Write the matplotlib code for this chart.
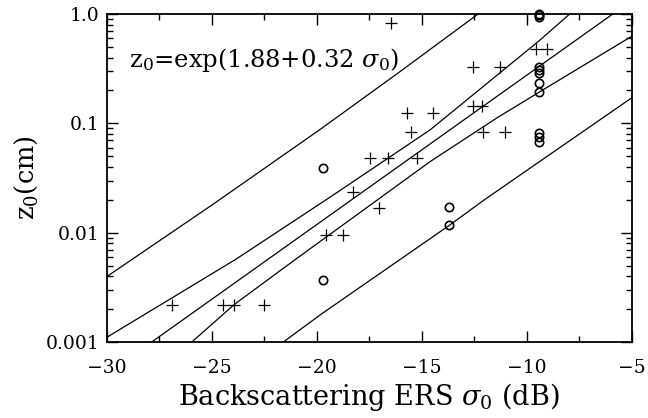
import numpy as np
import matplotlib
matplotlib.use("Agg")
import matplotlib.pyplot as plt
from matplotlib.ticker import FixedLocator, FixedFormatter, MultipleLocator

plt.rcParams['font.family'] = ['DejaVu Serif']
plt.rcParams['mathtext.fontset'] = 'dejavuserif'

# --- data ---
# open circles
circle_sigma = [-9.4, -9.4, -9.4, -9.4, -9.4, -9.4, -9.4, -9.4, -9.4, -9.4, -9.4,
                -13.7, -13.7, -19.7, -19.7]
circle_z0 = [1.0, 0.97, 0.94, 0.33, 0.307, 0.287, 0.232, 0.195, 0.082, 0.0755, 0.068,
             0.0171, 0.0118, 0.0388, 0.0037]

# plus markers
plus_sigma = [-16.47, -9.55, -9.04, -12.57, -11.26, -12.57, -12.13, -15.70, -14.47,
              -15.5, -12.06, -11.02, -17.45, -16.61, -15.23, -18.25, -17.02,
              -19.55, -18.75, -26.9, -24.47, -23.91, -22.49]
plus_z0 = [0.83, 0.48, 0.48, 0.326, 0.326, 0.143, 0.143, 0.124, 0.124,
           0.084, 0.084, 0.084, 0.048, 0.048, 0.048, 0.0237, 0.0167,
           0.0095, 0.0095, 0.0022, 0.0022, 0.0022, 0.0022]

# fitted line and band curves
fit_sigma = [-27.85, -5.9]
fit_z0 = [0.001, 1.0]

upper_conf_sigma = [-30, -23.85, -19.3, -14.6, -9.4, -7.95]
upper_conf_z0 = [0.0011, 0.0057, 0.0215, 0.087, 0.57, 1.0]

lower_conf_sigma = [-25.94, -23.91, -21.02, -14.6, -11.42, -9.4, -5]
lower_conf_z0 = [0.001, 0.00221, 0.00567, 0.0446, 0.112, 0.193, 0.625]

upper_pred_sigma = [-30, -25, -19.83, -16, -12.31]
upper_pred_z0 = [0.00395, 0.0178, 0.088, 0.30, 1.0]

lower_pred_sigma = [-21.58, -19.83, -13.7, -12.06, -5]
lower_pred_z0 = [0.001, 0.00177, 0.0116, 0.0197, 0.171]

# --- plot ---
fig = plt.figure(figsize=(6.48, 4.18), dpi=100)
ax = fig.add_axes([0.1644, 0.1818, 0.8104, 0.7847])

curves = [(fit_sigma, fit_z0), (upper_conf_sigma, upper_conf_z0),
          (lower_conf_sigma, lower_conf_z0), (upper_pred_sigma, upper_pred_z0),
          (lower_pred_sigma, lower_pred_z0)]
for cx, cz in curves:
    ax.plot(cx, cz, color='black', lw=0.9)

ax.plot(plus_sigma, plus_z0, ls='none', marker='+', ms=9, mew=0.9, color='black',
        clip_on=False)
ax.plot(circle_sigma, circle_z0, ls='none', marker='o', ms=6, mew=1.2,
        mfc='none', mec='black', clip_on=False)

ax.set_yscale('log')
ax.set_xlim(-30, -5)
ax.set_ylim(0.001, 1.0)

ax.xaxis.set_major_locator(MultipleLocator(5))
ax.xaxis.set_minor_locator(MultipleLocator(2.5))
ax.yaxis.set_major_locator(FixedLocator([0.001, 0.01, 0.1, 1.0]))
ax.yaxis.set_major_formatter(FixedFormatter(['0.001', '0.01', '0.1', '1.0']))

ax.tick_params(which='both', direction='in', top=True, right=True, labelsize=13.5,
               width=1.0)
ax.tick_params(which='major', length=8)
ax.tick_params(which='minor', length=4.5)
ax.tick_params(axis='x', which='major', pad=12)
ax.tick_params(axis='y', which='major', pad=5)
for sp in ax.spines.values():
    sp.set_linewidth(1.3)

ax.set_xlabel(r'Backscattering ERS $\sigma_0$ (dB)', fontsize=19.5, labelpad=3)
ax.set_ylabel(r'z$_{\rm 0}$(cm)', fontsize=18.5, labelpad=4)

ax.text(-28.93, 0.33, r'z$_{\rm 0}$=exp(1.88+0.32 $\sigma_0$)', fontsize=17.5,
        va='baseline', ha='left')

fig.savefig('out.png', dpi=100)
